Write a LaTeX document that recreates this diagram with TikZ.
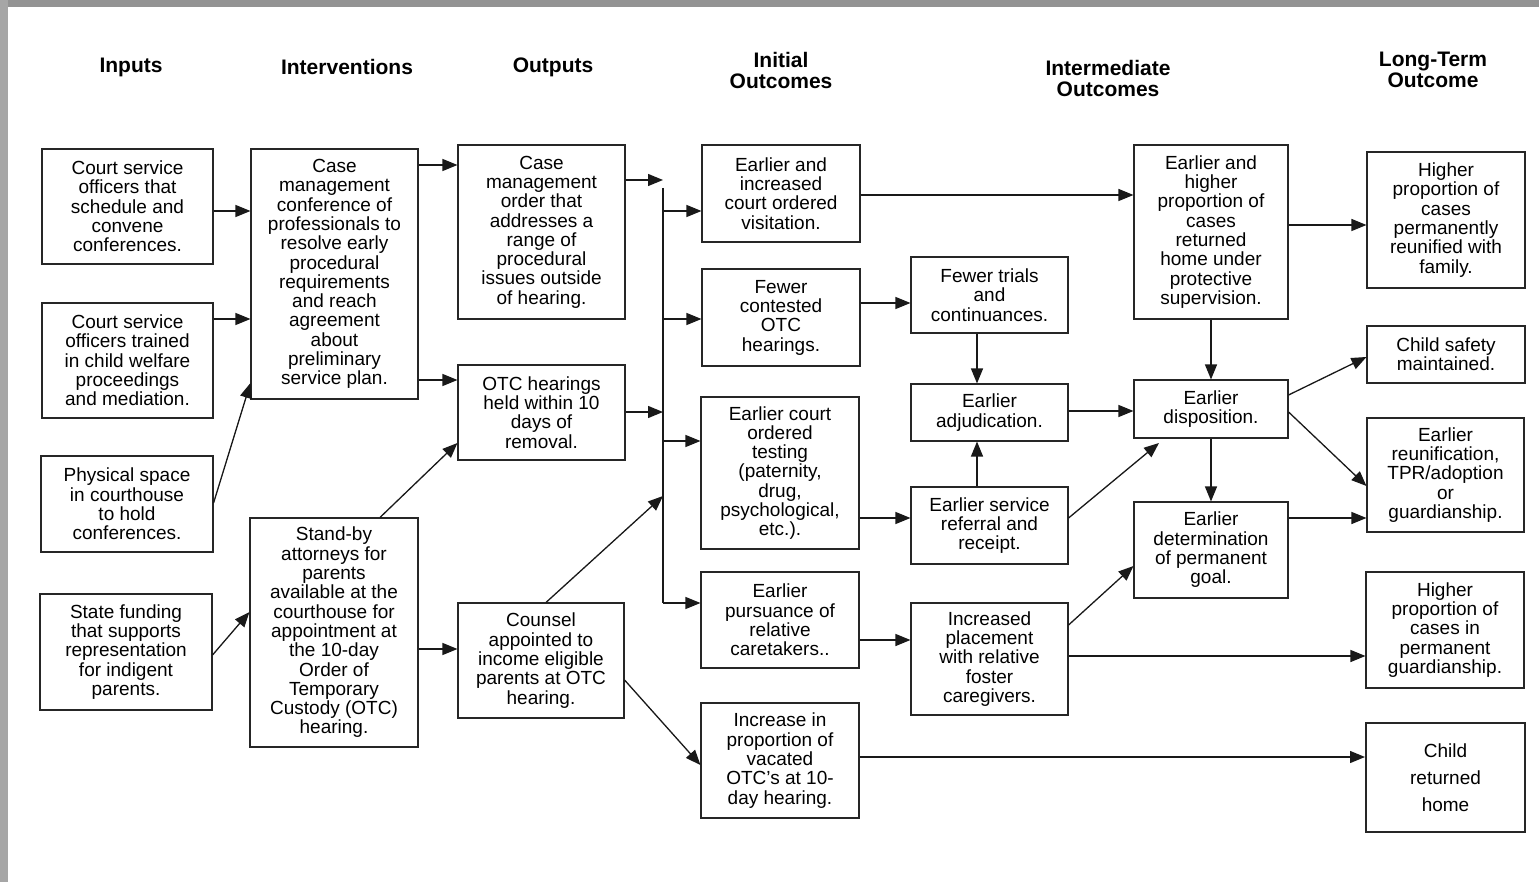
\documentclass[tikz,border=0pt]{standalone}
\usepackage{fontspec}
\setmainfont{Liberation Sans}
\usetikzlibrary{arrows.meta}
\begin{document}
\begin{tikzpicture}[x=1pt,y=-1pt,
  box/.style={draw=black!85, line width=1.1pt, align=center, inner sep=0pt,
    font=\fontsize{19}{19.3}\selectfont},
  hdr/.style={align=center, inner sep=0pt, font=\fontsize{21}{21}\selectfont\bfseries},
  arr/.style={-{Triangle[length=15pt,width=12pt]}, line width=1.3pt, draw=black!90, fill=black!90},
  ln/.style={line width=1.3pt, draw=black!90}]
\useasboundingbox (0,0) rectangle (1539,882);
% scanned page frame
\fill[white] (0,0) rectangle (1539,882);
\fill[gray!85] (0,0) rectangle (1539,7);
\fill[gray!70] (0,0) rectangle (8,882);

% column headings
\node[hdr] (hIn)  at (131,67)  {Inputs};
\node[hdr] (hInt) at (347,67)  {Interventions};
\node[hdr] (hOut) at (553,67)  {Outputs};
\node[hdr] (hIni) at (781,70)  {Initial\\Outcomes};
\node[hdr] (hMid) at (1108,78) {Intermediate\\Outcomes};
\node[hdr] (hLT)  at (1433,70) {Long-Term\\Outcome};

% inputs
\node[box, minimum width=171, minimum height=115] (in1) at (127.5,206.5)
  {Court service\\officers that\\schedule and\\convene\\conferences.};
\node[box, minimum width=171, minimum height=115] (in2) at (127.5,360.5)
  {Court service\\officers trained\\in child welfare\\proceedings\\and mediation.};
\node[box, minimum width=172, minimum height=96] (in3) at (127,504)
  {Physical space\\in courthouse\\to hold\\conferences.};
\node[box, minimum width=172, minimum height=116] (in4) at (126,652)
  {State funding\\that supports\\representation\\for indigent\\parents.};

% interventions
\node[box, minimum width=167, minimum height=250] (iv1) at (334.5,274)
  {Case\\management\\conference of\\professionals to\\resolve early\\procedural\\requirements\\and reach\\agreement\\about\\preliminary\\service plan.};
\node[box, minimum width=168, minimum height=229] (iv2) at (334,632.5)
  {Stand-by\\attorneys for\\parents\\available at the\\courthouse for\\appointment at\\the 10-day\\Order of\\Temporary\\Custody (OTC)\\hearing.};

% outputs
\node[box, minimum width=167, minimum height=174] (o1) at (541.5,232)
  {Case\\management\\order that\\addresses a\\range of\\procedural\\issues outside\\of hearing.};
\node[box, minimum width=167, minimum height=95] (o2) at (541.5,412.5)
  {OTC hearings\\held within 10\\days of\\removal.};
\node[box, minimum width=166, minimum height=115] (o3) at (541,660.5)
  {Counsel\\appointed to\\income eligible\\parents at OTC\\hearing.};

% initial outcomes
\node[box, minimum width=158, minimum height=97] (ia1) at (781,193.5)
  {Earlier and\\increased\\court ordered\\visitation.};
\node[box, minimum width=158, minimum height=97] (ia2) at (781,317.5)
  {Fewer\\contested\\OTC\\hearings.};
\node[box, minimum width=158, minimum height=152] (ia3) at (780,473)
  {Earlier court\\ordered\\testing\\(paternity,\\drug,\\psychological,\\etc.).};
\node[box, minimum width=158, minimum height=96] (ia4) at (780,620)
  {Earlier\\pursuance of\\relative\\caretakers..};
\node[box, minimum width=158, minimum height=115] (ia5) at (780,760.5)
  {Increase in\\proportion of\\vacated\\OTC's at 10-\\day hearing.};

% intermediate outcomes
\node[box, minimum width=157, minimum height=76] (im1) at (989.5,295)
  {Fewer trials\\and\\continuances.};
\node[box, minimum width=157, minimum height=57] (im2) at (989.5,412.5)
  {Earlier\\adjudication.};
\node[box, minimum width=157, minimum height=77] (im3) at (989.5,525.5)
  {Earlier service\\referral and\\receipt.};
\node[box, minimum width=157, minimum height=112] (im4) at (989.5,659)
  {Increased\\placement\\with relative\\foster\\caregivers.};
\node[box, minimum width=154, minimum height=174] (hh) at (1211,232)
  {Earlier and\\higher\\proportion of\\cases\\returned\\home under\\protective\\supervision.};
\node[box, minimum width=154, minimum height=58] (ed) at (1211,409)
  {Earlier\\disposition.};
\node[box, minimum width=154, minimum height=96] (edp) at (1211,550)
  {Earlier\\determination\\of permanent\\goal.};

% long-term outcomes
\node[box, minimum width=158, minimum height=136] (lt1) at (1446,220)
  {Higher\\proportion of\\cases\\permanently\\reunified with\\family.};
\node[box, minimum width=158, minimum height=57] (lt2) at (1446,354.5)
  {Child safety\\maintained.};
\node[box, minimum width=157, minimum height=114] (lt3) at (1445.5,475)
  {Earlier\\reunification,\\TPR/adoption\\or\\guardianship.};
\node[box, minimum width=158, minimum height=116] (lt4) at (1445,630)
  {Higher\\proportion of\\cases in\\permanent\\guardianship.};
\node[box, line width=2pt, minimum width=159, minimum height=109,
  font=\fontsize{19}{27}\selectfont] (lt5) at (1445.5,777.5)
  {Child\\returned\\home};

% distribution bus between outputs and initial outcomes
\coordinate (bus) at (663,188);
\coordinate (busend) at (663,603);

% inputs -> interventions
\draw[arr] (in1.east |- 0,211) -- (iv1.west |- 0,211);
\draw[arr] (in2.east |- 0,319) -- (iv1.west |- 0,319);
\draw[arr] (in3.east |- 0,503) -- (iv1.west |- 0,383);
\draw[arr] (in4.east |- 0,655) -- (iv2.west |- 0,612);

% interventions -> outputs
\draw[arr] (iv1.east |- 0,165) -- (o1.west |- 0,165);
\draw[arr] (iv1.east |- 0,380) -- (o2.west |- 0,380);
\draw[arr] (iv2.north -| 380,0) -- (o2.west |- 0,443);
\draw[arr] (iv2.east |- 0,649) -- (o3.west |- 0,649);

% outputs -> bus
\draw[arr] (o1.east |- 0,180) -- (bus |- 0,180);
\draw[arr] (o2.east |- 0,412) -- (bus |- 0,412);
\draw[arr] (o3.north -| 546,0) -- (bus |- 0,496);
\draw[ln] (bus) -- (busend);

% bus -> initial outcomes
\draw[arr] (bus |- 0,211) -- (ia1.west |- 0,211);
\draw[arr] (bus |- 0,319) -- (ia2.west |- 0,319);
\draw[arr] (bus |- 0,441) -- (ia3.west |- 0,441);
\draw[arr] (busend) -- (ia4.west |- busend);
\draw[arr] (o3.east |- 0,680) -- (ia5.west |- 0,765);

% initial -> intermediate
\draw[arr] (ia1.east |- 0,195) -- (hh.west |- 0,195);
\draw[arr] (ia2.east |- 0,303) -- (im1.west |- 0,303);
\draw[arr] (ia3.east |- 0,518) -- (im3.west |- 0,518);
\draw[arr] (ia4.east |- 0,640) -- (im4.west |- 0,640);
\draw[arr] (ia5.east |- 0,757) -- (lt5.west |- 0,757);

% within intermediate outcomes
\draw[arr] (im1.south -| 977,0) -- (im2.north -| 977,0);
\draw[arr] (im3.north -| 977,0) -- (im2.south -| 977,0);
\draw[arr] (im2.east |- 0,411) -- (ed.west |- 0,411);
\draw[arr] (im3.east |- 0,518) -- (1159,443);
\draw[arr] (im4.east |- 0,625) -- (edp.west |- 0,566);
\draw[arr] (im4.east |- 0,656) -- (lt4.west |- 0,656);
\draw[arr] (hh.south) -- (ed.north);
\draw[arr] (ed.south) -- (edp.north);

% intermediate -> long-term
\draw[arr] (hh.east |- 0,225) -- (lt1.west |- 0,225);
\draw[arr] (ed.east |- 0,395) -- (lt2.west |- 0,357);
\draw[arr] (ed.east |- 0,412) -- (lt3.west |- 0,486);
\draw[arr] (edp.east |- 0,518) -- (lt3.west |- 0,518);
\end{tikzpicture}
\end{document}
